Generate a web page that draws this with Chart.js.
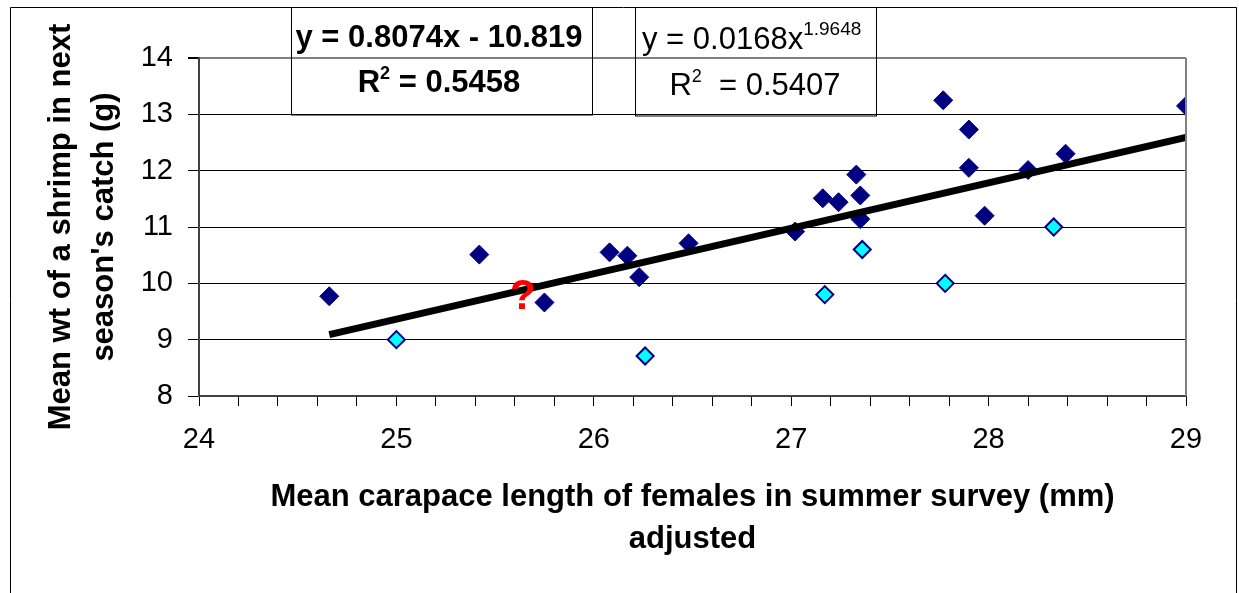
<!DOCTYPE html>
<html>
<head>
<meta charset="utf-8">
<script src="https://cdn.jsdelivr.net/npm/chart.js@4"></script>
<style>
  html, body { margin: 0; padding: 0; background: #fff; }
  #wrap { width: 1239px; height: 593px; }
</style>
</head>
<body>
<div id="wrap"><canvas id="miGrafico" width="1239" height="593"></canvas></div>
<script>
// carapace length (mm) -> mean wt next season (g)
const darkX = [24.66, 25.42, 25.75, 26.08, 26.17, 26.23, 26.48, 27.02, 27.16, 27.24,
               27.33, 27.35, 27.35, 27.77, 27.90, 27.90, 27.98, 28.20, 28.39, 29.00];
const darkY = [9.77, 10.51, 9.66, 10.55, 10.49, 10.11, 10.71, 10.92, 11.51, 11.44,
               11.93, 11.56, 11.14, 13.25, 12.73, 12.05, 11.20, 12.01, 12.30, 13.15];
const lightX = [25.00, 26.26, 27.17, 27.36, 27.78, 28.33];
const lightY = [9.00, 8.71, 9.80, 10.60, 10.00, 11.00];
// linear trend, ends
const trendX = [24.66, 29.00];
const trendY = [9.09, 12.59];
const xRange = [24, 29];
const yRange = [8, 14];
const questionMark = { x: 25.64, y: 9.54 };

const FONT = "'Liberation Sans', Arial, sans-serif";
const pts = (xs, ys) => xs.map((x, i) => ({ x: x, y: ys[i] }));

function drawRuns(ctx, runs, x, y, align) {
    let total = 0;
    runs.forEach(r => { ctx.font = r[1]; total += ctx.measureText(r[0]).width; });
    let cx = align === 'center' ? x - total / 2 : x;
    ctx.textAlign = 'left';
    ctx.textBaseline = 'alphabetic';
    runs.forEach(r => {
        ctx.font = r[1];
        ctx.fillText(r[0], cx, y + r[2]);
        cx += ctx.measureText(r[0]).width;
    });
}

const decor = {
    id: 'decor',
    afterDraw(chart) {
        const { ctx, chartArea: a, scales } = chart;
        ctx.save();
        // right border of plot area
        ctx.strokeStyle = '#808080';
        ctx.lineWidth = 2;
        ctx.beginPath();
        ctx.moveTo(a.right, a.top);
        ctx.lineTo(a.right, a.bottom);
        ctx.stroke();
        // outer frame
        ctx.strokeStyle = '#000';
        ctx.lineWidth = 1;
        ctx.beginPath();
        ctx.moveTo(10.5, 600);
        ctx.lineTo(10.5, 7.5);
        ctx.lineTo(1236.5, 7.5);
        ctx.lineTo(1236.5, 600);
        ctx.stroke();
        // equation boxes
        ctx.strokeRect(291.5, 7.5, 301, 107.5);
        ctx.strokeRect(635.5, 7.5, 241, 108.5);
        ctx.fillStyle = '#000';
        drawRuns(ctx, [['y = 0.8074x - 10.819', 'bold 31px ' + FONT, 0]], 439, 47, 'center');
        drawRuns(ctx, [['R', 'bold 31px ' + FONT, 0], ['2', 'bold 18px ' + FONT, -13],
                       [' = 0.5458', 'bold 31px ' + FONT, 0]], 439, 92, 'center');
        drawRuns(ctx, [['y = 0.0168x', '31px ' + FONT, 0], ['1.9648', '19px ' + FONT, -14]], 642, 49, 'left');
        drawRuns(ctx, [['R', '31px ' + FONT, 0], ['2', '18px ' + FONT, -13],
                       ['  = 0.5407', '31px ' + FONT, 0]], 755, 95, 'center');
        // red question mark
        ctx.fillStyle = '#ff0000';
        ctx.font = 'bold 42px ' + FONT;
        ctx.textAlign = 'center';
        ctx.fillText('?', scales.x.getPixelForValue(questionMark.x), scales.y.getPixelForValue(questionMark.y));
        ctx.restore();
    }
};

document.addEventListener('DOMContentLoaded', function () {
    const ctx = document.getElementById('miGrafico').getContext('2d');
    new Chart(ctx, {
        type: 'scatter',
        data: {
            datasets: [{
                label: 'dark',
                data: pts(darkX, darkY),
                pointStyle: 'rectRot',
                pointRadius: 9.5,
                backgroundColor: '#000080',
                borderColor: '#000080',
                borderWidth: 1,
                order: 2
            }, {
                label: 'trend',
                type: 'line',
                data: pts(trendX, trendY),
                borderColor: '#000',
                borderWidth: 7,
                pointRadius: 0,
                fill: false,
                order: 1
            }, {
                label: 'light',
                data: pts(lightX, lightY),
                pointStyle: 'rectRot',
                pointRadius: 8.5,
                backgroundColor: '#00ffff',
                borderColor: '#000080',
                borderWidth: 2,
                order: 0
            }]
        },
        options: {
            responsive: false,
            animation: false,
            devicePixelRatio: 1,
            layout: { padding: { left: 0, top: 58, right: 53, bottom: 0 } },
            plugins: { legend: { display: false }, tooltip: { enabled: false } },
            scales: {
                x: {
                    type: 'linear',
                    min: xRange[0],
                    max: xRange[1],
                    afterFit(s) { s.height = 197; s.paddingLeft = 0; s.paddingRight = 0; },
                    border: { display: true, color: '#404040', width: 2 },
                    grid: { drawOnChartArea: false, drawTicks: true, tickLength: 10, tickColor: '#000' },
                    ticks: {
                        stepSize: 0.2,
                        autoSkip: false,
                        maxRotation: 0,
                        padding: 17,
                        color: '#000',
                        font: { family: FONT, size: 29 },
                        callback: v => Math.abs(v - Math.round(v)) < 1e-6 ? String(Math.round(v)) : ''
                    },
                    title: {
                        display: true,
                        text: ['Mean carapace length of females in summer survey (mm)', 'adjusted'],
                        color: '#000',
                        font: { family: FONT, size: 31, weight: 'bold', lineHeight: 1.36 },
                        padding: { top: 0, bottom: 32 }
                    }
                },
                y: {
                    min: yRange[0],
                    max: yRange[1],
                    afterFit(s) { s.width = 199; s.paddingTop = 0; s.paddingBottom = 0; },
                    border: { display: true, color: '#404040', width: 2 },
                    grid: {
                        drawTicks: true,
                        tickLength: 11,
                        tickColor: '#000',
                        color: c => c.tick && c.tick.value === yRange[1] ? '#808080' : '#000',
                        lineWidth: c => c.tick && c.tick.value === yRange[1] ? 2 : 1
                    },
                    ticks: {
                        stepSize: 1,
                        padding: 15,
                        color: '#000',
                        font: { family: FONT, size: 29 }
                    },
                    title: {
                        display: true,
                        text: ['Mean wt of a shrimp in next', "season's catch (g)"],
                        color: '#000',
                        font: { family: FONT, size: 31, weight: 'bold', lineHeight: 1.39 },
                        padding: { top: 40, bottom: 0 }
                    }
                }
            }
        },
        plugins: [decor]
    });
});
</script>
</body>
</html>
